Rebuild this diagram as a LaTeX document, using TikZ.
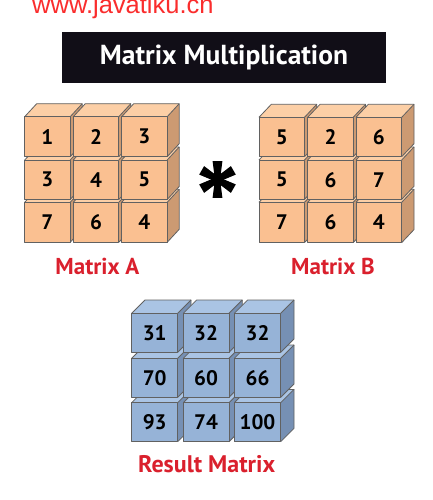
\documentclass[tikz,border=0pt]{standalone}
\usepackage{fontspec}
\setmainfont{PT Sans}
\newfontfamily\urlfont{Liberation Sans}
\definecolor{redlab}{RGB}{218,32,45}
\definecolor{urlred}{RGB}{250,45,45}
\definecolor{titlebg}{RGB}{17,14,23}
\definecolor{ofront}{RGB}{250,192,145}
\definecolor{otop}{RGB}{252,207,166}
\definecolor{oside}{RGB}{204,154,114}
\definecolor{bfront}{RGB}{150,179,215}
\definecolor{btop}{RGB}{170,196,228}
\definecolor{bside}{RGB}{118,144,180}
\newcommand\mycube[8]{% x y w h dx dy label name ; colours via \cf \ct \cs
  \fill[\ct] (#1,#2) -- ++(#5,-#6) -- ++(#3,0) -- ++(-#5,#6) -- cycle;
  \fill[\cs] (#1+#3,#2) -- ++(#5,-#6) -- ++(0,#4) -- ++(-#5,#6) -- cycle;
  \draw[edge] (#1,#2) -- ++(#5,-#6) -- ++(#3,0) -- ++(0,#4) -- ++(-#5,#6);
  \draw[edge] (#1+#3,#2) -- ++(#5,-#6);
  \draw[edge,fill=\cf] (#1,#2) rectangle ++(#3,#4);
  \node[num] (#8) at (#1+#3/2,#2+#4/2) {#7};
}
\begin{document}
\begin{tikzpicture}[x=1pt,y=-1pt,
  edge/.style={draw=black!62,line width=0.8pt,line join=round},
  num/.style={font=\bfseries\fontsize{21}{21}\selectfont,text=black,inner sep=0pt},
  lab/.style={font=\bfseries\fontsize{23}{23}\selectfont,text=redlab,inner sep=0pt}]
\useasboundingbox (0,0) rectangle (432,500);
\fill[white] (0,0) rectangle (432,500);
% url
\node[anchor=base west,inner sep=0pt,font=\urlfont\fontsize{25.5}{25.5}\selectfont,text=urlred] (url) at (32,14) {www.javatiku.cn};
% title
\node[fill=titlebg,minimum width=323.7pt,minimum height=50.4pt,inner sep=0pt,anchor=north west,
  font=\bfseries\fontsize{27.5}{27.5}\selectfont,text=white] (title) at (62,32.3) {Matrix Multiplication};
% Matrix A
\def\cf{ofront}\def\ct{otop}\def\cs{oside}
\mycube{24.7}{202.3}{45.5}{40}{12}{13}{7}{a31}
\mycube{73.3}{202.3}{45.5}{40}{12}{13}{6}{a32}
\mycube{121.7}{202.3}{45.5}{40}{12}{13}{4}{a33}
\mycube{24.7}{160}{45.5}{39.5}{12}{13}{3}{a21}
\mycube{73.3}{160}{45.5}{39.5}{12}{13}{4}{a22}
\mycube{121.7}{160}{45.5}{39.5}{12}{13}{5}{a23}
\mycube{24.7}{116.7}{45.5}{40}{12}{13}{1}{a11}
\mycube{73.3}{116.7}{45.5}{40}{12}{13}{2}{a12}
\mycube{121.7}{116.7}{45.5}{40}{12}{13}{3}{a13}
% Matrix B
\mycube{259}{202.3}{45.5}{40.3}{12.3}{13}{7}{b31}
\mycube{307.7}{202.3}{45.5}{40.3}{12.3}{13}{6}{b32}
\mycube{356}{202.3}{45.7}{40.3}{12.3}{13}{4}{b33}
\mycube{259}{160}{45.5}{39.3}{12.3}{13}{5}{b21}
\mycube{307.7}{160}{45.5}{39.3}{12.3}{13}{6}{b22}
\mycube{356}{160}{45.7}{39.3}{12.3}{13}{7}{b23}
\mycube{259}{117.3}{45.5}{39.4}{12.3}{13}{5}{b11}
\mycube{307.7}{117.3}{45.5}{39.4}{12.3}{13}{2}{b12}
\mycube{356}{117.3}{45.7}{39.4}{12.3}{13}{6}{b13}
% Result
\def\cf{bfront}\def\ct{btop}\def\cs{bside}
\mycube{131.7}{402.7}{46}{39}{13.3}{13.3}{93}{c31}
\mycube{183.3}{402.7}{45.7}{39}{13.3}{13.3}{74}{c32}
\mycube{234.3}{402.7}{46.4}{39}{13.3}{13.3}{100}{c33}
\mycube{131.7}{358.3}{46}{39}{13.3}{13.3}{70}{c21}
\mycube{183.3}{358.3}{45.7}{39}{13.3}{13.3}{60}{c22}
\mycube{234.3}{358.3}{46.4}{39}{13.3}{13.3}{66}{c23}
\mycube{131.7}{313.3}{46}{39}{13.3}{13.3}{31}{c11}
\mycube{183.3}{313.3}{45.7}{39}{13.3}{13.3}{32}{c12}
\mycube{234.3}{313.3}{46.4}{39}{13.3}{13.3}{32}{c13}
% asterisk
\foreach \a in {90,30,-30,-90,150,210}
  \fill[black,shift={(217.5,179.5)},rotate=\a] (0,-2.6) -- (18.3,-4.9) -- (18.3,4.9) -- (0,2.6) -- cycle;
\fill[black] (217.5,179.5) circle (3.4);
% labels
\node[lab] (labA) at (97.4,266) {Matrix A};
\node[lab] (labB) at (333,266) {Matrix B};
\node[lab,font=\bfseries\fontsize{24}{24}\selectfont] (labC) at (206.7,464.5) {Result Matrix};
\end{tikzpicture}
\end{document}
